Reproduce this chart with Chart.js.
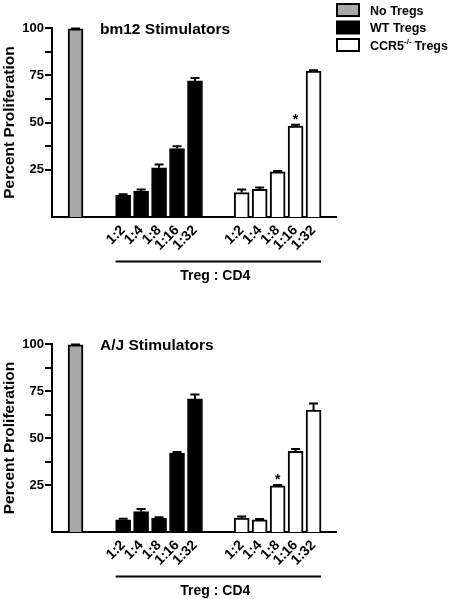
<!DOCTYPE html>
<html>
<head>
<meta charset="utf-8">
<script src="https://cdn.jsdelivr.net/npm/chart.js@4.4.0/dist/chart.umd.min.js"></script>
<style>
  html, body { margin: 0; padding: 0; background: #fff; }
  #wrap { position: relative; width: 450px; height: 599px; overflow: hidden; }
  .panel { position: absolute; left: 0; width: 450px; }
</style>
</head>
<body>
<div id="wrap">
  <div class="panel" style="top:0; height:300px;"><canvas id="c1"></canvas></div>
  <div class="panel" style="top:300px; height:299px;"><canvas id="c2"></canvas></div>
</div>
<script>
/* Treg suppression, two stimulator panels. */
var RATIOS = ['1:2', '1:4', '1:8', '1:16', '1:32'];
var SERIES = ['No Tregs', 'WT Tregs', 'CCR5'];
var Y_TICKS = [25, 37.5, 50, 62.5, 75, 87.5, 100];

// bm12 stimulators
var BM12_NONE = [99.5];
var BM12_NONE_ERR = [0.3];
var BM12_WT = [11.5, 13.6, 26.0, 36.2, 72.0];
var BM12_WT_ERR = [0.6, 1.0, 1.8, 1.2, 1.6];
var BM12_KO = [12.9, 14.7, 23.9, 48.1, 77.2];
var BM12_KO_ERR = [1.6, 0.9, 0.5, 0.7, 0.5];
var BM12_SIG = [3];

// A/J stimulators
var AJ_NONE = [99.5];
var AJ_NONE_ERR = [0.3];
var AJ_WT = [6.5, 10.8, 7.4, 41.9, 70.8];
var AJ_WT_ERR = [0.5, 1.4, 0.5, 0.7, 2.3];
var AJ_KO = [7.4, 6.5, 24.6, 42.9, 64.8];
var AJ_KO_ERR = [0.9, 0.4, 0.4, 1.2, 3.5];
var AJ_SIG = [2];

// slot positions on the x scale (one unit per bar)
var X_NONE = 0, X_WT = 2.65, X_KO = 9.25;
var FONT = "'Liberation Sans', Arial, sans-serif";

function pts(start, vals) {
  return vals.map(function (v, i) { return { x: start + i, y: v }; });
}
function tickPositions() {
  var out = [];
  RATIOS.forEach(function (_, i) { out.push(X_WT + i); });
  RATIOS.forEach(function (_, i) { out.push(X_KO + i); });
  return out;
}

var panelPlugin = {
  id: 'panel',
  afterDatasetsDraw: function (chart, args, opts) {
    var ctx = chart.ctx, y = chart.scales.y, area = chart.chartArea;
    ctx.save();
    // error bars (upper only)
    chart.data.datasets.forEach(function (ds, di) {
      var meta = chart.getDatasetMeta(di);
      meta.data.forEach(function (el, i) {
        var top = y.getPixelForValue(ds.data[i].y + ds.errors[i]);
        ctx.strokeStyle = '#000';
        ctx.lineWidth = 2;
        ctx.beginPath();
        ctx.moveTo(el.x, el.y);
        ctx.lineTo(el.x, top);
        ctx.moveTo(el.x - 4.5, top);
        ctx.lineTo(el.x + 4.5, top);
        ctx.stroke();
      });
    });
    // significance asterisks on the CCR5 series
    var koDs = chart.data.datasets[2], koMeta = chart.getDatasetMeta(2);
    ctx.fillStyle = '#000';
    ctx.font = 'bold 14px ' + FONT;
    ctx.textAlign = 'center';
    ctx.textBaseline = 'alphabetic';
    (opts.sig || []).forEach(function (i) {
      var top = y.getPixelForValue(koDs.data[i].y + koDs.errors[i]);
      ctx.fillText('*', koMeta.data[i].x, top - 1);
    });
    // panel title
    ctx.font = 'bold 15.5px ' + FONT;
    ctx.textAlign = 'left';
    ctx.textBaseline = 'middle';
    ctx.fillText(opts.title, 100, area.top + 2);
    // bracket line + "Treg : CD4"
    var wt = chart.getDatasetMeta(1).data, ko = koMeta.data;
    var x0 = wt[0].x - wt[0].width / 2, x1 = ko[ko.length - 1].x + ko[ko.length - 1].width / 2;
    ctx.lineWidth = 2;
    ctx.beginPath();
    ctx.moveTo(x0, area.bottom + 44.5);
    ctx.lineTo(x1, area.bottom + 44.5);
    ctx.stroke();
    ctx.font = 'bold 14px ' + FONT;
    ctx.textAlign = 'center';
    ctx.fillText('Treg : CD4', (x0 + x1) / 2 - 3, area.bottom + 59);
    // legend
    if (opts.legend) {
      var rows = [3, 20.5, 38];
      chart.data.datasets.forEach(function (ds, di) {
        ctx.fillStyle = ds.backgroundColor;
        ctx.fillRect(337, rows[di] + 1, 22, 12);
        ctx.strokeStyle = '#000';
        ctx.lineWidth = 2;
        ctx.strokeRect(337, rows[di] + 1, 22, 12);
        ctx.fillStyle = '#000';
        ctx.font = 'bold 12.5px ' + FONT;
        ctx.textAlign = 'left';
        ctx.textBaseline = 'middle';
        var ty = rows[di] + 8.5, tx = 370;
        if (di === 2) {
          ctx.fillText(SERIES[2], tx, ty);
          tx += ctx.measureText(SERIES[2]).width;
          ctx.font = 'bold 8px ' + FONT;
          ctx.fillText('-/-', tx, ty - 5);
          tx += ctx.measureText('-/-').width + 3;
          ctx.font = 'bold 12.5px ' + FONT;
          ctx.fillText('Tregs', tx, ty);
        } else {
          ctx.fillText(SERIES[di], tx, ty);
        }
      });
    }
    ctx.restore();
  }
};

function makePanel(id, title, none, noneErr, wt, wtErr, ko, koErr, sig, legend, padTop, xHeight) {
  var bar = { borderColor: '#000', borderWidth: 2, barThickness: 15, grouped: false, borderSkipped: 'start' };
  return new Chart(document.getElementById(id), {
    type: 'bar',
    data: {
      datasets: [
        Object.assign({ label: SERIES[0], data: pts(X_NONE, none), errors: noneErr, backgroundColor: '#a8a8a8' }, bar),
        Object.assign({ label: SERIES[1], data: pts(X_WT, wt), errors: wtErr, backgroundColor: '#000000' }, bar),
        Object.assign({ label: SERIES[2], data: pts(X_KO, ko), errors: koErr, backgroundColor: '#ffffff' }, bar)
      ]
    },
    options: {
      responsive: true, maintainAspectRatio: false, animation: false,
      layout: { padding: { top: padTop, left: 0, right: 114, bottom: 0 } },
      plugins: {
        legend: { display: false },
        tooltip: { enabled: false },
        panel: { title: title, sig: sig, legend: legend }
      },
      scales: {
        x: {
          type: 'linear', min: -1.31, max: 14.5, offset: false,
          grid: { display: false, drawTicks: false },
          border: { color: '#000', width: 2 },
          afterBuildTicks: function (s) { s.ticks = tickPositions().map(function (v) { return { value: v }; }); },
          afterFit: function (s) { s.height = xHeight; },
          ticks: {
            autoSkip: false, minRotation: 45, maxRotation: 45, padding: 5,
            color: '#000', font: { family: FONT, size: 14, weight: 'bold' },
            callback: function (v, i) { return RATIOS[i % RATIOS.length]; }
          }
        },
        y: {
          min: 0, max: 100,
          grid: { display: true, drawOnChartArea: false, drawTicks: true, tickLength: 7, color: '#000', lineWidth: 2 },
          border: { color: '#000', width: 2 },
          afterBuildTicks: function (s) { s.ticks = Y_TICKS.map(function (v) { return { value: v }; }); },
          afterFit: function (s) { s.width = 52; },
          title: { display: true, text: 'Percent Proliferation', color: '#000', font: { family: FONT, size: 15.5, weight: 'bold' }, padding: { top: 0, bottom: 0 } },
          ticks: {
            padding: 1, color: '#000', font: { family: FONT, size: 13, weight: 'bold' },
            callback: function (v) { return v % 25 === 0 ? String(v) : ''; }
          }
        }
      }
    },
    plugins: [panelPlugin]
  });
}

makePanel('c1', 'bm12 Stimulators', BM12_NONE, BM12_NONE_ERR, BM12_WT, BM12_WT_ERR, BM12_KO, BM12_KO_ERR, BM12_SIG, true, 28, 83);
makePanel('c2', 'A/J Stimulators', AJ_NONE, AJ_NONE_ERR, AJ_WT, AJ_WT_ERR, AJ_KO, AJ_KO_ERR, AJ_SIG, false, 44, 67);
</script>
</body>
</html>
